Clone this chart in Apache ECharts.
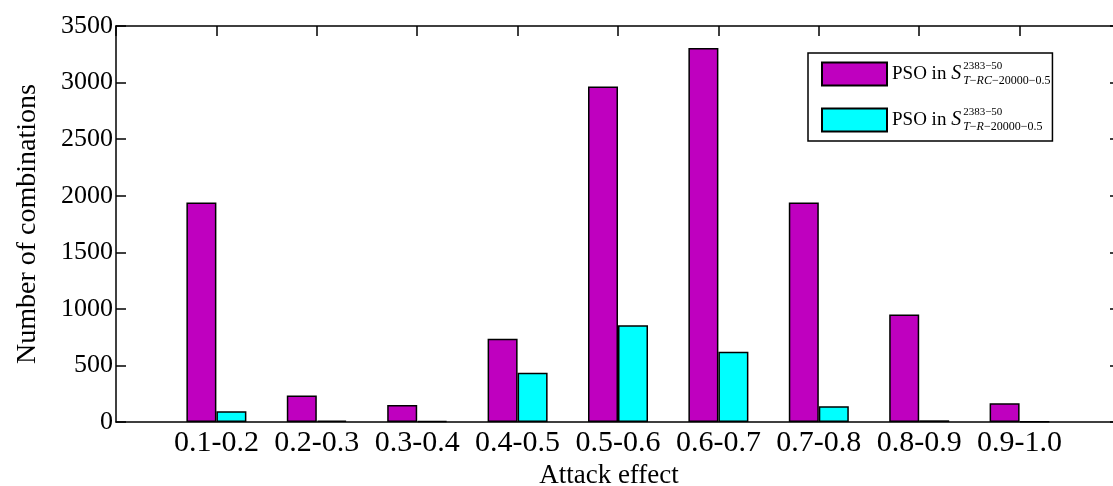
<!DOCTYPE html>
<html>
<head>
<meta charset="utf-8">
<script src="https://cdn.jsdelivr.net/npm/echarts@6/dist/echarts.min.js"></script>
<style>
html, body {margin: 0; padding: 0; background: #fff;}
#chart {width: 1113px; height: 486px;}
</style>
</head>
<body>
<div id="chart"></div>
<script>
// attack effect bins
var categories = ["0.1-0.2", "0.2-0.3", "0.3-0.4", "0.4-0.5", "0.5-0.6", "0.6-0.7", "0.7-0.8", "0.8-0.9", "0.9-1.0"];
// PSO in S(T-RC-20000-0.5)
var rcValues = [1940, 235, 150, 735, 2965, 3305, 1940, 950, 165];
// PSO in S(T-R-20000-0.5)
var rValues = [95, 12, 10, 435, 855, 620, 140, 15, 5];
var yMin = 0, yMax = 3500, yStep = 500;

var seriesNames = ["rc", "r"];
var legendTexts = {
	rc: "{a|PSO in }{s|S}{sup|2383\u221250}{subI|T}{sub|\u2212}{subI|RC}{sub|\u221220000\u22120.5}",
	r: "{a|PSO in }{s|S}{sup|2383\u221250}{subI|T}{sub|\u2212}{subI|R}{sub|\u221220000\u22120.5}"
};

var FONT = "'Liberation Serif', 'Times New Roman', serif";

// pad one empty slot each side, like xlim [0 10]
function padCats(arr){
	return [""].concat(arr, [" "]);
}
function padVals(arr){
	return ["-"].concat(arr, ["-"]);
}

var chart = echarts.init(document.getElementById("chart"), null, {renderer: "canvas"});

var axisLine = {show: true, onZero: false, lineStyle: {color: "#000", width: 1.5}};
var tickIn = {show: true, inside: true, length: 10, interval: 0, lineStyle: {color: "#000", width: 1.5}};
var option = {
	animation: false,
	backgroundColor: "#fff",
	textStyle: {fontFamily: FONT, color: "#000"},
	grid: {left: 116, top: 26, width: 1004, height: 396, outerBoundsMode: "none", containLabel: false},
	legend: {
		orient: "vertical",
		left: 808,
		top: 53,
		padding: [8, 2, 8, 13],
		itemGap: 20,
		itemWidth: 65,
		itemHeight: 23,
		icon: "rect",
		borderColor: "#000",
		borderWidth: 1.5,
		backgroundColor: "#fff",
		data: seriesNames,
		formatter: function(name){
			return legendTexts[name];
		},
		textStyle: {
			fontFamily: FONT,
			color: "#000",
			rich: {
				a: {fontSize: 19, fontFamily: FONT, lineHeight: 26, verticalAlign: "middle"},
				s: {fontSize: 20, fontFamily: FONT, fontStyle: "italic", lineHeight: 26, padding: [0, 2, 0, 0]},
				sup: {fontSize: 11, fontFamily: FONT, width: 0, lineHeight: 13, verticalAlign: "top"},
				subI: {fontSize: 12, fontFamily: FONT, fontStyle: "italic", lineHeight: 13, verticalAlign: "bottom"},
				sub: {fontSize: 12, fontFamily: FONT, lineHeight: 13, verticalAlign: "bottom"}
			}
		}
	},
	xAxis: [{
		type: "category",
		position: "bottom",
		data: padCats(categories),
		boundaryGap: false,
		axisLine: axisLine,
		axisTick: {show: false},
		axisLabel: {fontSize: 30, color: "#000", fontFamily: FONT, margin: 6, interval: 0},
		splitLine: {show: false},
		name: "Attack effect",
		nameLocation: "middle",
		nameGap: 39,
		nameTextStyle: {fontSize: 27, color: "#000", fontFamily: FONT, padding: [0, 18, 0, 0]}
	}, {
		type: "category",
		position: "top",
		data: padCats(categories),
		boundaryGap: false,
		axisLine: axisLine,
		axisTick: tickIn,
		axisLabel: {show: false},
		splitLine: {show: false}
	}],
	yAxis: [{
		type: "value",
		min: yMin,
		max: yMax,
		interval: yStep,
		position: "left",
		axisLine: axisLine,
		axisTick: tickIn,
		axisLabel: {fontSize: 26, color: "#000", fontFamily: FONT, margin: 3,
			formatter: function(v){ return String(v); }},
		splitLine: {show: false},
		name: "Number of combinations",
		nameLocation: "middle",
		nameGap: 74,
		nameTextStyle: {fontSize: 28, color: "#000", fontFamily: FONT}
	}, {
		type: "value",
		min: yMin,
		max: yMax,
		interval: yStep,
		position: "right",
		axisLine: axisLine,
		axisTick: tickIn,
		axisLabel: {show: false},
		splitLine: {show: false}
	}],
	series: [{
		name: "rc",
		type: "bar",
		xAxisIndex: 0,
		yAxisIndex: 0,
		barWidth: 30,
		barGap: "0%",
		data: padVals(rcValues),
		itemStyle: {color: "#bf00bf", borderColor: "#000", borderWidth: 1.5}
	}, {
		name: "r",
		type: "bar",
		xAxisIndex: 0,
		yAxisIndex: 0,
		barWidth: 30,
		barGap: "0%",
		data: padVals(rValues),
		itemStyle: {color: "#00ffff", borderColor: "#000", borderWidth: 1.5}
	}]
};
chart.setOption(option);
</script>
</body>
</html>
